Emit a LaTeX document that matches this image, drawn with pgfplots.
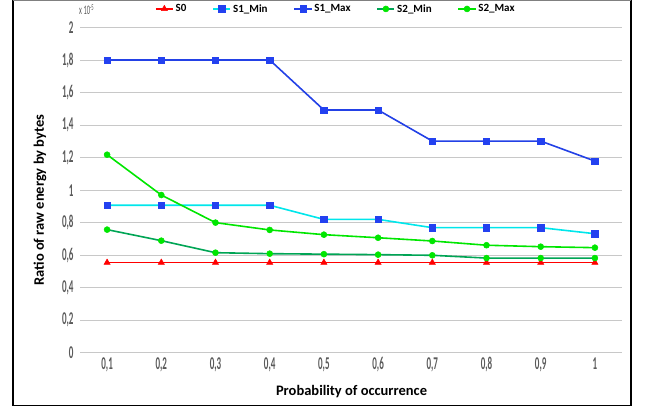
\documentclass[border=0pt]{standalone}
\usepackage{fontspec}
\setmainfont{Carlito}
\newfontfamily\condensed[FakeStretch=0.5]{Carlito}
\usepackage{pgfplots}
\pgfplotsset{compat=1.18}
\definecolor{cSzero}{RGB}{255,0,0}
\definecolor{cSoneMinLine}{RGB}{0,230,235}
\definecolor{cBlueMark}{RGB}{35,65,240}
\definecolor{cSoneMax}{RGB}{35,65,230}
\definecolor{cStwoMinLine}{RGB}{0,165,85}
\definecolor{cGreen}{RGB}{0,230,0}
\definecolor{gridgray}{RGB}{200,200,200}
\definecolor{ticktext}{RGB}{90,90,90}
\begin{document}
\begin{tikzpicture}[x=1pt,y=1pt]
\path[use as bounding box] (-80,-59.2) rectangle (567,352.8);
\begin{axis}[
  at={(0,0)}, anchor=south west,
  scale only axis, width=542pt, height=325pt,
  xmin=0.05, xmax=1.05, ymin=0, ymax=2,
  axis line style={draw=none},
  tick style={draw=none},
  ymajorgrids, major grid style={gridgray, line width=1pt},
  xtick={0.1,0.2,0.3,0.4,0.5,0.6,0.7,0.8,0.9,1.0},
  xticklabels={{0,1},{0,2},{0,3},{0,4},{0,5},{0,6},{0,7},{0,8},{0,9},{1}},
  ytick={0,0.2,0.4,0.6,0.8,1,1.2,1.4,1.6,1.8,2},
  yticklabels={{0},{0,2},{0,4},{0,6},{0,8},{1},{1,2},{1,4},{1,6},{1,8},{2}},
  tick label style={font=\condensed\bfseries\fontsize{18}{19}\selectfont, text=ticktext},
  xticklabel style={yshift=-1pt},
  yticklabel style={xshift=-3pt},
  xlabel={Probability of occurrence},
  ylabel={Ratio of raw energy by bytes},
  label style={font=\bfseries\fontsize{14.5}{16}\selectfont},
  x label style={at={(axis description cs:0.501,-0.12)}, anchor=center},
  y label style={at={(axis description cs:-0.074,0.470)}, anchor=center},
  legend style={at={(0.472,1.058)}, anchor=center, draw=none, fill=none,
    font=\bfseries\fontsize{11}{12}\selectfont, legend columns=-1,
    /tikz/every even column/.append style={column sep=24pt}},
  legend cell align=left,
]
\addplot[cSzero, line width=1.6pt, mark=triangle*, mark size=3.6pt, mark options={fill=cSzero, draw=cSzero, line width=0.5pt}]
  coordinates {(0.1,0.555) (0.2,0.555) (0.3,0.555) (0.4,0.555) (0.5,0.555) (0.6,0.555) (0.7,0.555) (0.8,0.555) (0.9,0.555) (1.0,0.555)};
\addlegendentry{S0}
\addplot[cSoneMinLine, line width=1.6pt, mark=square*, mark size=3.2pt, mark options={fill=cBlueMark, draw=cBlueMark, line width=0.5pt}]
  coordinates {(0.1,0.908) (0.2,0.908) (0.3,0.908) (0.4,0.908) (0.5,0.821) (0.6,0.821) (0.7,0.770) (0.8,0.770) (0.9,0.770) (1.0,0.733)};
\addlegendentry{S1\_Min}
\addplot[cSoneMax, line width=1.6pt, mark=square*, mark size=3.2pt, mark options={fill=cBlueMark, draw=cBlueMark, line width=0.5pt}]
  coordinates {(0.1,1.802) (0.2,1.802) (0.3,1.802) (0.4,1.802) (0.5,1.494) (0.6,1.494) (0.7,1.303) (0.8,1.303) (0.9,1.303) (1.0,1.180)};
\addlegendentry{S1\_Max}
\addplot[cStwoMinLine, line width=1.6pt, mark=*, mark size=3pt, mark options={fill=cGreen, draw=cGreen, line width=0.5pt}]
  coordinates {(0.1,0.758) (0.2,0.690) (0.3,0.616) (0.4,0.610) (0.5,0.607) (0.6,0.604) (0.7,0.600) (0.8,0.583) (0.9,0.583) (1.0,0.583)};
\addlegendentry{S2\_Min}
\addplot[cGreen, line width=1.6pt, mark=*, mark size=3pt, mark options={fill=cGreen, draw=cGreen, line width=0.5pt}]
  coordinates {(0.1,1.219) (0.2,0.971) (0.3,0.801) (0.4,0.756) (0.5,0.727) (0.6,0.708) (0.7,0.688) (0.8,0.662) (0.9,0.653) (1.0,0.647)};
\addlegendentry{S2\_Max}
\end{axis}
\node[font=\condensed\fontsize{13}{14}\selectfont, text=ticktext] at (6.5,342.8) {x 10\raisebox{0.6ex}{\fontsize{9}{10}\selectfont -5}};
\draw[black, line width=1.6pt] (-67,352.3) -- (-67,-52.7) -- (551,-52.7) -- (551,352.3);
\draw[gray, line width=1.2pt] (-67,352.3) -- (551,352.3);
\end{tikzpicture}
\end{document}
